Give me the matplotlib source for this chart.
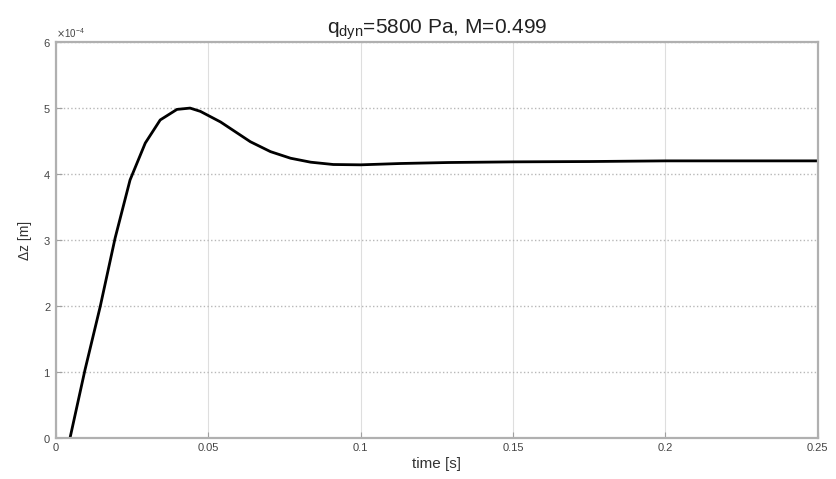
import matplotlib
matplotlib.use("Agg")
import matplotlib.pyplot as plt
from matplotlib.ticker import ScalarFormatter

time_s = [0.0046, 0.0095, 0.0145, 0.0194, 0.0243, 0.0293, 0.0342, 0.0397, 0.0440,
          0.0474, 0.0540, 0.0638, 0.0704, 0.0770, 0.0836, 0.0910, 0.1000, 0.1130,
          0.1286, 0.1500, 0.1750, 0.2000, 0.2500]
dz_e4 = [0.0, 1.03, 1.99, 3.03, 3.91, 4.47, 4.82, 4.98, 5.00,
         4.95, 4.79, 4.49, 4.34, 4.24, 4.18, 4.145, 4.14, 4.16,
         4.175, 4.185, 4.19, 4.20, 4.20]
dz_m = [v * 1e-4 for v in dz_e4]

xticks = [0, 0.05, 0.1, 0.15, 0.2, 0.25]
xticklabels = ["0", "0.05", "0.1", "0.15", "0.2", "0.25"]
yticks = [0, 1e-4, 2e-4, 3e-4, 4e-4, 5e-4, 6e-4]

plt.rcParams['font.family'] = ['Liberation Sans', 'DejaVu Sans']

fig = plt.figure(figsize=(8.36, 4.79), dpi=100)
ax = fig.add_axes([0.067, 0.0856, 0.911, 0.8265])

ax.plot(time_s, dz_m, color='black', linewidth=2.0)

ax.set_xlim(0, 0.25)
ax.set_ylim(0, 6e-4)
ax.set_xticks(xticks)
ax.set_xticklabels(xticklabels)
ax.set_yticks(yticks)

fmt = ScalarFormatter(useMathText=True)
fmt.set_powerlimits((-3, 3))
ax.yaxis.set_major_formatter(fmt)
ax.yaxis.get_offset_text().set_fontsize(7)
ax.yaxis.get_offset_text().set_color('#444444')

ax.yaxis.grid(True, linestyle=':', color='#b8b8b8', linewidth=1.0)
ax.xaxis.grid(True, linestyle='-', color='#dedede', linewidth=0.8)

for s in ax.spines.values():
    s.set_color('#b0b0b0')
    s.set_linewidth(1.6)

ax.tick_params(direction='in', length=4, color='#a0a0a0', labelsize=8,
               labelcolor='#444444', top=False, right=False)

ax.set_xlabel('time [s]', fontsize=11, color='#333333', labelpad=3)
ax.set_ylabel('Δz [m]', fontsize=10, color='#333333', labelpad=8)
ax.set_title(r'q$_{\mathregular{dyn}}$=5800 Pa, M=0.499', fontsize=15, color='#222222', pad=6)

fig.savefig('out.png', dpi=100)
